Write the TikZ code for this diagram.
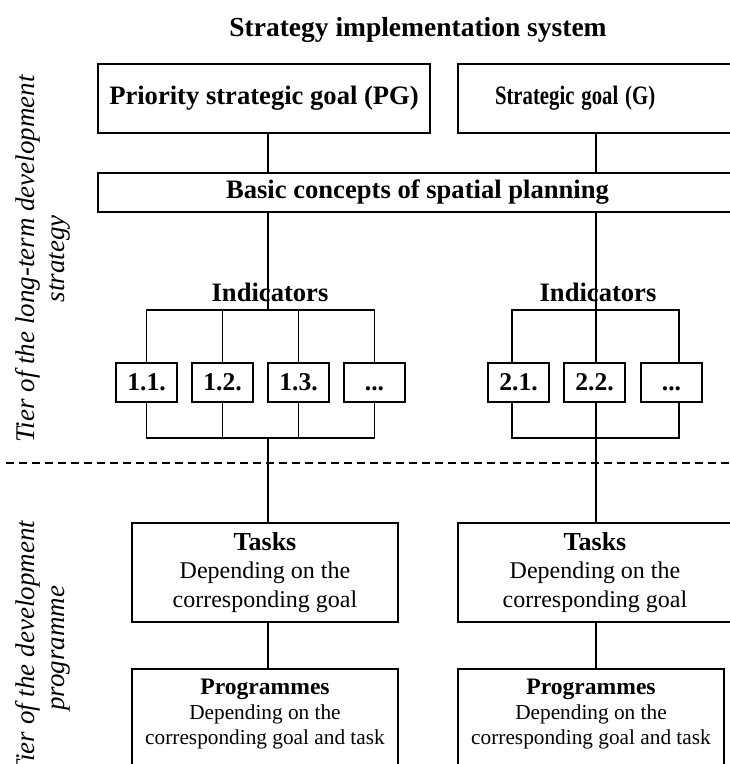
\documentclass[tikz,border=0pt]{standalone}
\usepackage{fontspec}
\setmainfont{Liberation Serif}
\newcommand\myfs[2]{\fontsize{#1}{#2}\selectfont}
\begin{document}
\begin{tikzpicture}[x=1pt,y=-1pt,
  box/.style={draw, line width=1.5pt, inner sep=0pt, align=center},
  bigbox/.style={box, line width=1.8pt},
  head/.style={font=\bfseries\myfs{26.6}{30}},
  ind/.style={box, minimum width=61, minimum height=39, text height=17pt, text depth=1pt, font=\bfseries\myfs{25.6}{28}},
  conn/.style={line width=1.5pt},
  dashline/.style={line width=1.3pt, dash pattern=on 8pt off 5pt},
  tier/.style={rotate=90, align=center, inner sep=0pt, font=\itshape\myfs{27}{30}}]
\useasboundingbox (0,0) rectangle (730,764);
\clip (0,0) rectangle (730,764);
\fill[white] (0,0) rectangle (730,764);

% coordinates
\coordinate (cl) at (268,0);
\coordinate (cr) at (596,0);
\coordinate (tl) at (268,310);
\coordinate (bl) at (268,438);
\coordinate (tr) at (596,310);
\coordinate (br) at (596,438);
\coordinate (r1) at (512,0);
\coordinate (r3) at (679,0);
\coordinate (dl) at (6,463);
\coordinate (dr) at (740,463);

% title
\node[font=\bfseries\myfs{27.5}{30}] (title) at (418,30) {Strategy implementation system};

% goals
\node[bigbox, head, minimum width=332, minimum height=69] (pg) at (264,98.5) {Priority strategic goal (PG)};
\node[bigbox, head, minimum width=284, minimum height=69, text width=210, inner xsep=37, align=left] (g) at (600,98.5) {\scalebox{0.78}[1]{Strategic goal (G)}};
\node[bigbox, head, minimum width=639, minimum height=39] (basic) at (417.5,192.5) {Basic concepts of spatial planning};

% indicators
\node[head] (indl) at (270,292) {Indicators};
\node[head] (indr) at (598,292) {Indicators};

\node[ind] (b11) at (146.5,382.5) {1.1.};
\node[ind] (b12) at (222.5,382.5) {1.2.};
\node[ind] (b13) at (298.5,382.5) {1.3.};
\node[ind] (b14) at (374.5,382.5) {...};
\node[ind] (b21) at (518.5,382.5) {2.1.};
\node[ind] (b22) at (594.5,382.5) {2.2.};
\node[ind] (b23) at (671.5,382.5) {...};

% tasks
\node[bigbox, minimum width=266, minimum height=99, font=\myfs{24}{28.5}] (task1) at (265,572.5)
  {{\bfseries\myfs{26}{28.5}Tasks}\\Depending on the\\corresponding goal};
\node[bigbox, minimum width=274, minimum height=99, font=\myfs{24}{28.5}] (task2) at (595,572.5)
  {{\bfseries\myfs{26}{28.5}Tasks}\\Depending on the\\corresponding goal};

% programmes
\node[bigbox, minimum width=266, minimum height=140, anchor=north] (prog1) at (265,668) {};
\node[bigbox, minimum width=266, minimum height=140, anchor=north] (prog2) at (591,668) {};
\node[align=center, anchor=north, inner sep=0pt, font=\myfs{21.3}{25}] (prog1t) at (265,679)
  {{\bfseries\myfs{23.6}{25}Programmes}\\Depending on the\\corresponding goal and task};
\node[align=center, anchor=north, inner sep=0pt, font=\myfs{21.3}{25}] (prog2t) at (591,679)
  {{\bfseries\myfs{23.6}{25}Programmes}\\Depending on the\\corresponding goal and task};

% tier labels
\node[tier] (tier1) at (43,259) {Tier of the long-term development\\strategy};
\node[tier] (tier2) at (43,648) {Tier of the development\\programme};

% connectors
\draw[conn] (pg.south -| cl) -- (basic.north -| cl);
\draw[conn] (g.south -| cr) -- (basic.north -| cr);
\draw[conn] (basic.south -| cl) -- (tl);
\draw[conn] (basic.south -| cr) -- (tr);

\draw[conn] (b11.north) -- (b11.north |- tl) -- (b14.north |- tl) -- (b14.north);
\draw[conn] (b12.north) -- (b12.north |- tl);
\draw[conn] (b13.north) -- (b13.north |- tl);
\draw[conn] (b11.south) -- (b11.south |- bl) -- (b14.south |- bl) -- (b14.south);
\draw[conn] (b12.south) -- (b12.south |- bl);
\draw[conn] (b13.south) -- (b13.south |- bl);

\draw[conn] (b21.north -| r1) -- (tr -| r1) -- (tr -| r3) -- (b23.north -| r3);
\draw[conn] (tr) -- (b22.north -| cr);
\draw[conn] (b21.south -| r1) -- (br -| r1) -- (br -| r3) -- (b23.south -| r3);
\draw[conn] (b22.south -| cr) -- (br);

\draw[conn] (bl) -- (task1.north -| bl);
\draw[conn] (br) -- (task2.north -| br);
\draw[conn] (task1.south -| bl) -- (prog1.north -| bl);
\draw[conn] (task2.south -| br) -- (prog2.north -| br);

\draw[dashline] (dl) -- (dr);
\end{tikzpicture}
\end{document}
